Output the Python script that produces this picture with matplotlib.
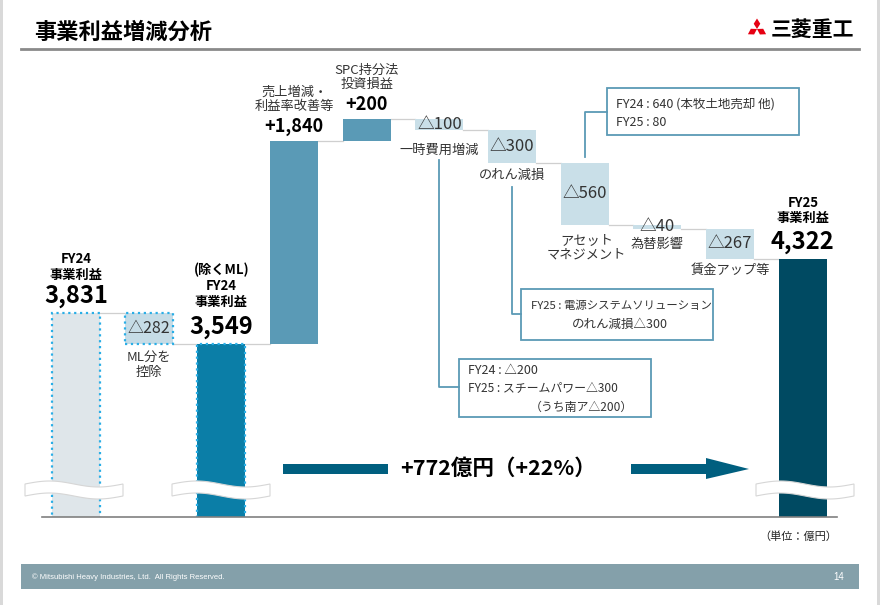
import numpy as np
import matplotlib
matplotlib.use('Agg')
import matplotlib.pyplot as plt
from matplotlib.patches import Polygon, Rectangle
from matplotlib.lines import Line2D

plt.rcParams['font.family'] = ['Noto Sans CJK JP', 'DejaVu Sans']

# data (億円)
fy24 = 3831
ml_adjust = -282
steps = [1840, 200, -100, -300, -560, -40, -267]
step_labels = ['売上増減・\n利益率改善等', 'SPC持分法\n投資損益', '一時費用増減', 'のれん減損',
               'アセット\nマネジメント', '為替影響', '賃金アップ等']
fy25 = 4322
growth_label = '+772億円（+22%）'

W, H = 880, 605


def fx(x):
    return x / W


def fy(y):
    return 1 - y / H


def fmt_delta(v):
    return f'+{v:,}' if v > 0 else f'△{-v:,}'


fig = plt.figure(figsize=(8.8, 6.05), dpi=100)
fig.set_facecolor('white')

# chart area: baseline at y=517px, 0.1105 px per 億円
vbase = 1983
scale = 0.1105
ax = fig.add_axes([fx(42), fy(517), fx(837) - fx(42), (517 - 60) / H])
ax.set_xlim(-0.468, 10.47)
ax.set_ylim(vbase, vbase + (517 - 60) / scale)
for s in ['top', 'right', 'left']:
    ax.spines[s].set_visible(False)
ax.spines['bottom'].set_color('#808080')
ax.spines['bottom'].set_linewidth(1.2)
ax.set_xticks([])
ax.set_yticks([])
ax.patch.set_alpha(0)

bw = 0.66
dot_col = '#2aaee6'
base = fy24 + ml_adjust

# totals
ax.bar(0, fy24, bw, color='#dfe6ea', edgecolor=dot_col, linestyle=':', linewidth=1.6, zorder=2)
ax.bar(1, -ml_adjust, bw, bottom=base, color='#c6dce6', edgecolor=dot_col, linestyle=':',
       linewidth=1.6, zorder=2)
ax.bar(2, base, bw, color='#0b7ea7', edgecolor=dot_col, linestyle=':', linewidth=1.6, zorder=2)
ax.bar(10, fy25, bw, color='#004a62', zorder=2)

# steps
level = base
levels = [fy24, base, base]
for i, d in enumerate(steps):
    x = 3 + i
    bottom = min(level, level + d)
    col = '#5a9ab6' if d > 0 else '#c9dfe8'
    ax.bar(x, abs(d), bw, bottom=bottom, color=col, zorder=2)
    level += d
    levels.append(level)

# connector lines
for i in range(10):
    ax.plot([i + bw / 2, i + 1 - bw / 2], [levels[i], levels[i]], color='#cfcfcf', lw=0.9, zorder=1)


def note(x, y, s, dy, size, weight='normal', color='#222222', dx=0, va='center'):
    ax.annotate(s, xy=(x, y), xytext=(dx, dy), textcoords='offset pixels', ha='center', va=va,
                fontsize=size, fontweight=weight, color=color, linespacing=1.15, zorder=6)


# total labels
note(0, fy24, f'{fy24:,}', 17, 17, 'bold', 'black')
note(0, fy24, 'FY24\n事業利益', 46, 9.5, 'bold', 'black')
note(1, (fy24 + base) / 2, fmt_delta(ml_adjust), 0, 11.5, color='#333333')
note(1, base, 'ML分を\n控除', -21, 9.5, color='#333333')
note(2, base, f'{base:,}', 17, 17, 'bold', 'black')
note(2, base, '(除くML)\nFY24\n事業利益', 58, 9.5, 'bold', 'black')
note(10, fy25, f'{fy25:,}', 17, 17, 'bold', 'black')
note(10, fy25, 'FY25\n事業利益', 48, 9.5, 'bold', 'black')

# step labels
for i, d in enumerate(steps):
    x = 3 + i
    top = max(levels[x - 1], levels[x])
    bot = min(levels[x - 1], levels[x])
    if d > 0:
        note(x, top, fmt_delta(d), 14, 13, 'bold', 'black')
        note(x, top, step_labels[i], 41, 9.5, color='#333333')
    else:
        note(x, (top + bot) / 2, fmt_delta(d), 0, 12, color='#333333')
        off = {5: -21, 6: -13, 7: -23, 8: -15, 9: -12}[x]
        note(x, bot, step_labels[i], off, 9.5, color='#333333', dx=2 if x == 7 else 0)

# axis breaks
for cx in [74, 221, 805]:
    t = np.linspace(0, 1, 40)
    xs = cx - 49 + 98 * t
    top = 490 - 6 - 3 * np.sin(2 * np.pi * t)
    bot = top + 12
    pts = [(fx(a), fy(b)) for a, b in zip(xs, top)] + [(fx(a), fy(b)) for a, b in zip(xs[::-1], bot[::-1])]
    fig.add_artist(Polygon(pts, closed=True, facecolor='white', edgecolor='#d6d6d6', lw=0.8, zorder=3))

# callouts
call_col = '#5b9ab5'


def callout(x0, y0, x1, y1, lines, path):
    fig.add_artist(Rectangle((fx(x0), fy(y1)), (x1 - x0) / W, (y1 - y0) / H, facecolor='white',
                             edgecolor=call_col, lw=1.3, zorder=4))
    fig.add_artist(Line2D([fx(p[0]) for p in path], [fy(p[1]) for p in path], color=call_col, lw=1.3, zorder=4))
    for lx, ly, s, fs in lines:
        fig.text(fx(lx), fy(ly), s, ha='left', va='center', fontsize=fs, color='#333333', zorder=5)


callout(607, 88, 799, 135, [(616, 104, 'FY24 : 640 (本牧土地売却 他)', 9), (616, 122, 'FY25 : 80', 9)],
        [(585, 157), (585, 112), (607, 112)])
callout(521, 289, 713, 340, [(531, 306, 'FY25 : 電源システムソリューション', 8.2),
                             (572, 324, 'のれん減損△300', 9)],
        [(512, 187), (512, 314), (521, 314)])
callout(459, 359, 651, 417, [(468, 370, 'FY24 : △200', 9), (468, 388, 'FY25 : スチームパワー△300', 8.6),
                             (530, 407, '（うち南ア△200）', 8.6)],
        [(439, 160), (439, 387), (459, 387)])

# growth arrow
arr_col = '#005f7f'
fig.add_artist(Rectangle((fx(283), fy(474)), 105 / W, 10 / H, facecolor=arr_col, edgecolor='none'))
arrow_pts = [(631, 464), (706, 464), (706, 458), (749, 469), (706, 479), (706, 474), (631, 474)]
fig.add_artist(Polygon([(fx(a), fy(b)) for a, b in arrow_pts], closed=True, facecolor=arr_col, edgecolor='none'))
fig.text(fx(498), fy(468), growth_label, ha='center', va='center',
         fontsize=15.5, fontweight='bold', color='black')

fig.text(fx(798), fy(537), '（単位：億円）', ha='center', va='center', fontsize=8, color='#222222')

# header
fig.text(fx(34), fy(32), '事業利益増減分析', ha='left', va='center', fontsize=16, fontweight='bold', color='black')
fig.add_artist(Line2D([fx(21), fx(859)], [fy(49), fy(49)], color='#8a8a8a', lw=2))
cx0, cy0, L, w = 757, 29, 10.5, 3.3
rh = np.array([[0, 0], [w, -L / 2], [0, -L], [-w, -L / 2]])
for ang in [0, 120, 240]:
    a = np.deg2rad(ang)
    rot = np.array([[np.cos(a), -np.sin(a)], [np.sin(a), np.cos(a)]])
    p = rh @ rot.T
    fig.add_artist(Polygon([(fx(cx0 + q[0]), fy(cy0 + q[1])) for q in p], closed=True,
                           facecolor='#e60012', edgecolor='none'))
fig.text(fx(771), fy(29), '三菱重工', ha='left', va='center', fontsize=15, fontweight='bold', color='black')

# footer
fig.add_artist(Rectangle((fx(21), fy(589)), (859 - 21) / W, 25 / H, facecolor='#84a0aa', edgecolor='none'))
fig.text(fx(32), fy(577), '© Mitsubishi Heavy Industries, Ltd.  All Rights Reserved.', ha='left', va='center',
         fontsize=5.5, color='white', family=['Liberation Sans', 'DejaVu Sans'])
fig.text(fx(844), fy(577), '14', ha='right', va='center', fontsize=7, color='white',
         family=['Liberation Sans', 'DejaVu Sans'])

# slide edges
fig.add_artist(Rectangle((0, 0), 3 / W, 1, facecolor='#d9d9d9', edgecolor='none'))
fig.add_artist(Rectangle((1 - 3 / W, 0), 3 / W, 1, facecolor='#d9d9d9', edgecolor='none'))

plt.savefig('out.png', dpi=100)
